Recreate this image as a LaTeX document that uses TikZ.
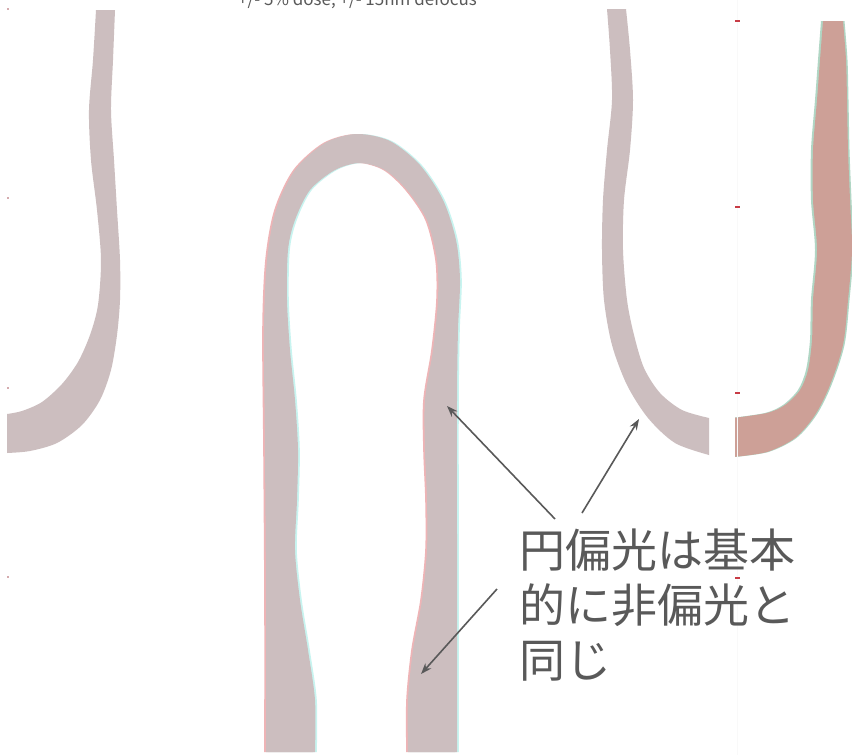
\documentclass[tikz,border=0pt]{standalone}
\usepackage{fontspec}
\newfontfamily\jpfont{Noto Sans CJK JP}
\usetikzlibrary{arrows.meta}
\definecolor{bandgray}{RGB}{204,190,191}
\definecolor{bandred}{RGB}{205,160,151}
\definecolor{fringepink}{RGB}{238,180,182}
\definecolor{fringecyan}{RGB}{200,244,240}
\definecolor{fringegreen}{RGB}{176,214,196}
\definecolor{labelgray}{RGB}{89,89,89}
\definecolor{tickred}{RGB}{200,60,70}
\tikzset{
  callout/.style={draw=labelgray, line width=1.6pt, -{Stealth[length=11pt,width=8pt]}},
  tickmark/.style={draw=tickred, line width=1.2pt},
  bigtext/.style={font=\jpfont\fontsize{46}{55}\selectfont, text=labelgray, align=left, anchor=north west, inner sep=0pt},
}
\begin{document}
\begin{tikzpicture}[x=1pt, y=-1pt]
\useasboundingbox (0,0) rectangle (852,755);
\clip (0,0) rectangle (852,755);
\fill[white] (0,0) rectangle (852,755);

% caption running off the top edge
\node[font=\jpfont\fontsize{17}{20}\selectfont, text=labelgray, anchor=base west, inner sep=0pt] (cap) at (238,5) {+/- 5\% dose, +/- 15nm defocus};

% left hook
\fill[bandgray] plot[smooth] coordinates {(96,10) (93,60) (89,110) (91,160) (97,210) (101,260) (98,305) (90,335) (78,362) (62,384) (42,402) (22,411) (7,414)}
  -- plot[smooth] coordinates {(7,453) (30,451) (57,443) (82,425) (100,400) (111,370) (117,335) (120,300) (120,260) (117,210) (114,160) (111,110) (113,60) (115,10)} -- cycle;

% central arch, drawn three times for the colour fringes
\foreach \dx/\col in {-1.8/fringepink, 1.8/fringecyan, 0/bandgray}{
\fill[\col, xshift=\dx pt] plot[smooth] coordinates {(266,752) (266,600) (265,450) (264,330) (267,260) (276,210) (295,170) (325,143) (357,134) (390,141) (420,165) (443,200) (456,240) (460,280) (458,330) (457,400) (457,550) (457,752)}
  -- plot[smooth] coordinates {(408,752) (408,700) (413,650) (422,600) (427,550) (427,500) (425,450) (425,400) (433,350) (438,300) (437,260) (427,220) (407,190) (385,170) (360,163) (335,170) (310,190) (295,220) (288,250) (287,300) (290,350) (295,400) (298,450) (297,500) (295,550) (300,600) (308,650) (315,700) (315,752)} -- cycle;
}

% right gray hook
\fill[bandgray] plot[smooth] coordinates {(607,9) (610,50) (612,100) (607,150) (603,200) (602,250) (604,300) (612,345) (627,385) (648,418) (675,443) (709,455)}
  -- plot[smooth] coordinates {(709,418) (682,410) (660,393) (644,368) (634,335) (627,300) (623,250) (624,200) (630,150) (633,100) (630,50) (626,9)} -- cycle;

% right red hook, with a green fringe that stops at its cut end
\begin{scope}
\clip (735,0) rectangle (852,755);
\foreach \dx/\col in {-2/fringegreen, 1.5/fringegreen, 0/bandred}{
\fill[\col, xshift=\dx pt] plot[smooth] coordinates {(823,21) (820,60) (817,100) (813,150) (813,200) (817,250) (813,300) (812,340) (808,370) (800,390) (785,405) (767,413) (733,418)}
  -- plot[smooth] coordinates {(733,457) (767,452) (795,438) (815,415) (830,385) (843,345) (848,300) (852,250) (850,200) (848,150) (847,100) (846,60) (843,21)} -- cycle;
}
\end{scope}

% faint guide line and tick marks
\draw[white!95!gray, line width=0.6pt] (737,0) -- (737,755);
\foreach \y in {21,207,393,578}{ \draw[tickmark] (735,\y) -- (740,\y); }
\foreach \y in {9,198,388,577}{ \fill[tickred!60!gray] (8,\y) circle (0.9); }

% label and callouts
\node[bigtext] (lbl) at (519,529) {円偏光は基本\\的に非偏光と\\同じ};
\coordinate (tA) at (447,406);
\coordinate (tB) at (639,419);
\coordinate (tC) at (421,674);
\coordinate (sA) at (555,519);
\coordinate (sB) at (582,513);
\coordinate (sC) at (497,589);
\draw[callout] (sA) -- (tA);
\draw[callout] (sB) -- (tB);
\draw[callout] (sC) -- (tC);
\end{tikzpicture}
\end{document}
